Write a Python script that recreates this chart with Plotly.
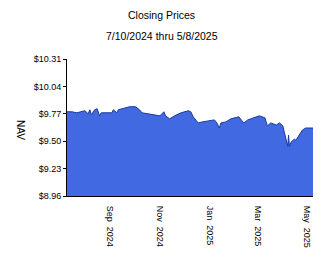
import plotly.graph_objects as go

dates = ["2024-07-10","2024-07-16","2024-07-22","2024-08-01","2024-08-05","2024-08-07","2024-08-09",
         "2024-08-13","2024-08-16","2024-08-19","2024-08-21","2024-08-28","2024-09-03","2024-09-05",
         "2024-09-09","2024-09-11","2024-09-17","2024-09-25","2024-10-02","2024-10-07","2024-10-10",
         "2024-10-16","2024-10-24","2024-11-01","2024-11-06","2024-11-08","2024-11-13","2024-11-19",
         "2024-11-27","2024-12-06","2024-12-09","2024-12-12","2024-12-16","2024-12-18","2024-12-23",
         "2024-12-30","2025-01-07","2025-01-10","2025-01-13","2025-01-15","2025-01-21","2025-01-27",
         "2025-01-31","2025-02-06","2025-02-10","2025-02-12","2025-02-17","2025-02-25","2025-03-03",
         "2025-03-10","2025-03-13","2025-03-17","2025-03-24","2025-03-28","2025-04-01","2025-04-03",
         "2025-04-07","2025-04-08","2025-04-09","2025-04-11","2025-04-15","2025-04-17","2025-04-23",
         "2025-04-25","2025-04-29","2025-05-08"]
nav = [9.79,9.79,9.78,9.80,9.77,9.81,9.76,
       9.81,9.82,9.75,9.78,9.78,9.78,9.81,
       9.78,9.81,9.82,9.84,9.84,9.81,9.78,
       9.77,9.76,9.75,9.79,9.75,9.72,9.75,
       9.78,9.80,9.79,9.74,9.70,9.68,9.69,
       9.70,9.71,9.68,9.63,9.68,9.69,9.72,
       9.73,9.74,9.70,9.68,9.71,9.73,9.75,
       9.73,9.65,9.68,9.66,9.68,9.65,9.58,
       9.45,9.56,9.45,9.49,9.52,9.51,9.58,
       9.61,9.63,9.63]

y_ticks = [8.96, 9.23, 9.50, 9.77, 10.04, 10.31]
y_labels = ["$8.96", "$9.23", "$9.50", "$9.77", "$10.04", "$10.31"]
x_ticks = ["2024-09-01", "2024-11-01", "2025-01-01", "2025-03-01", "2025-05-01"]
x_labels = ["Sep\u00a0\u00a02024", "Nov\u00a0\u00a02024", "Jan\u00a0\u00a02025", "Mar\u00a0\u00a02025", "May\u00a0\u00a02025"]

FONT = "Liberation Sans, Arial, sans-serif"

fig = go.Figure(go.Scatter(
    x=dates, y=nav, mode="lines",
    line=dict(color="#1a3a9c", width=1),
    fill="tozeroy", fillcolor="#4169E1",
    hoverinfo="skip"))

fig.update_layout(
    width=324, height=267,
    margin=dict(l=67, r=11, t=59, b=71),
    paper_bgcolor="white", plot_bgcolor="white",
    showlegend=False,
    font=dict(family=FONT, size=9, color="black"),
    xaxis=dict(range=["2024-07-10", "2025-05-08"], tickvals=x_ticks, ticktext=x_labels,
               tickangle=90, showgrid=False, zeroline=False, showline=True,
               linecolor="black", linewidth=1, ticks="", tickfont=dict(size=9),
               ticklabelstandoff=7),
    yaxis=dict(range=[8.96, 10.31], tickvals=y_ticks, ticktext=y_labels,
               showgrid=False, zeroline=False, showline=True, linecolor="black",
               linewidth=1, ticks="outside", ticklen=3, tickcolor="black",
               tickfont=dict(size=9)),
    annotations=[
        dict(text="Closing Prices", xref="paper", yref="paper", x=0.386, y=1.321,
             showarrow=False, font=dict(size=10.5), xanchor="center", yanchor="middle"),
        dict(text="7/10/2024 thru 5/8/2025", xref="paper", yref="paper", x=0.386, y=1.168,
             showarrow=False, font=dict(size=10.5), xanchor="center", yanchor="middle"),
        dict(text="NAV", xref="paper", yref="paper", x=-0.19, y=0.48, textangle=90,
             showarrow=False, font=dict(size=10), xanchor="center", yanchor="middle"),
    ],
)

fig.write_html("out.html")
